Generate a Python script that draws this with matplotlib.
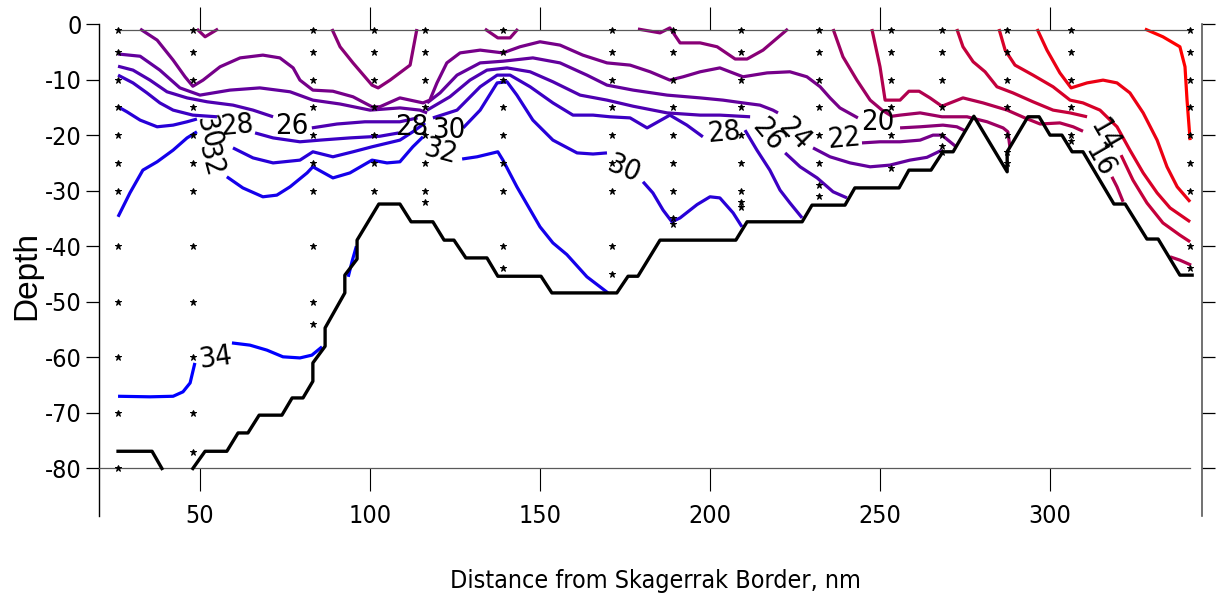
import matplotlib
matplotlib.use("Agg")
import matplotlib.pyplot as plt

plt.rcParams['font.family'] = ['Liberation Sans Narrow', 'DejaVu Sans']
plt.rcParams['font.stretch'] = 'condensed'
plt.rcParams['axes.unicode_minus'] = False

# CTD stations (nm from border) and the depths sampled at each
stations = [25.9, 47.9, 83.2, 101.2, 116.2, 139.1, 171.2, 189.1, 209.1, 232.1,
            253.2, 268.2, 287.4, 306.2, 341.2]
sample_depths = [
    [1, 5, 10, 15, 20, 25, 30, 40, 50, 60, 70, 80],
    [1, 5, 10, 15, 20, 25, 30, 40, 50, 60, 70, 77],
    [1, 5, 10, 15, 20, 25, 30, 40, 50, 54],
    [1, 5, 10, 15, 20, 25, 30],
    [1, 5, 10, 15, 20, 25, 30, 32],
    [1, 5, 10, 15, 20, 25, 30, 40, 44],
    [1, 5, 10, 15, 20, 25, 30, 40, 45],
    [1, 5, 10, 15, 20, 25, 30, 35, 36],
    [1, 5, 10, 15, 20, 25, 30, 32, 33],
    [1, 5, 10, 15, 20, 25, 29, 31],
    [1, 5, 10, 15, 20, 26],
    [1, 5, 10, 15, 20, 22, 23],
    [1, 5, 10, 15, 20, 23, 25],
    [1, 5, 10, 15, 20, 21],
    [1, 5, 10, 15, 20, 25, 30, 40, 44],
]

# bottom profile
bottom_x = [25.9, 35.9, 38.8, None, 47.9, 51.5, 57.9, 61.2, 64.1, 67.4, 74.1, 77.1, 80.3,
            83.2, 83.2, 86.8, 86.8, 92.6, 92.6, 96.2, 96.2, 102.6, 108.8, 112.1, 118.5,
            121.8, 124.7, 128.2, 134.4, 137.6, 150.3, 153.5, 172.6, 175.9, 178.8, 185.3,
            207.6, 210.9, 227.1, 230.0, 239.7, 242.6, 255.6, 258.5, 265.0, 268.5, 271.5,
            277.6, 287.4, 287.4, 293.5, 296.8, 300.0, 303.5, 306.5, 309.7, 318.8, 322.1,
            328.5, 331.8, 338.2, 341.8]
bottom_d = [-76.9, -76.9, -80.0, None, -80.0, -76.9, -76.9, -73.6, -73.6, -70.4, -70.4,
            -67.3, -67.3, -64.3, -61.0, -58.0, -54.7, -48.4, -45.2, -42.3, -38.9, -32.4,
            -32.4, -35.6, -35.6, -38.9, -38.9, -42.1, -42.1, -45.4, -45.4, -48.4, -48.4,
            -45.4, -45.4, -38.9, -38.9, -35.6, -35.6, -32.6, -32.6, -29.5, -29.5, -26.3,
            -26.3, -23.0, -23.0, -16.6, -26.6, -23.0, -16.7, -16.7, -20.0, -20.0, -23.0,
            -23.0, -32.4, -32.4, -38.7, -38.7, -45.2, -45.2]

# salinity isolines (level, distance, depth), split where labels sit
isolines = [
    (34, [25.9, 35.3, 42.1, 45.0, 47.1, 48.5], [-67.0, -67.1, -67.0, -66.2, -64.6, -61.0]),
    (34, [59.4, 64.7, 69.7, 74.4, 79.4, 82.9, 85.9], [-57.4, -57.8, -58.7, -59.9, -60.1, -59.6, -58.1]),
    (34, [93.6, 94.7, 96.0], [-45.5, -42.8, -40.0]),
    (32, [25.9, 29.4, 33.2, 37.4, 42.1, 46.2, 49.1], [-34.7, -30.4, -26.3, -24.8, -22.7, -20.5, -19.4]),
    (32, [57.9, 62.6, 68.5, 72.6, 76.5, 81.5, 83.2, 89.1, 94.1, 100.6, 105.0, 108.8, 112.6, 115.6],
         [-27.5, -29.5, -31.1, -30.8, -29.3, -26.8, -25.7, -27.7, -26.8, -24.5, -25.0, -24.8, -22.1, -20.3]),
    (32, [127.1, 131.5, 137.6, 139.1, 143.2, 150.0, 153.8, 157.9, 163.8, 170.0],
         [-24.3, -23.9, -23.0, -24.5, -29.3, -36.5, -39.4, -41.5, -45.5, -48.4]),
    (30, [25.9, 28.5, 32.4, 37.4, 42.1, 46.2, 49.1], [-14.9, -15.8, -17.3, -18.5, -18.2, -17.6, -17.1]),
    (30, [59.7, 65.6, 71.5, 79.4, 83.2, 89.1, 95.0, 100.6, 108.8, 112.6, 116.2],
         [-22.3, -24.1, -25.0, -24.5, -23.0, -23.9, -23.0, -22.1, -20.9, -19.4, -17.8]),
    (30, [127.4, 132.4, 137.4, 140.3, 143.2, 147.9, 153.8, 160.9, 165.6, 169.7],
         [-18.7, -15.5, -10.6, -10.4, -12.8, -17.3, -20.9, -23.2, -23.4, -23.2]),
    (30, [180.3, 183.2, 186.2, 188.8, 191.2, 196.2, 200.0, 202.9, 206.8, 209.4],
         [-28.4, -30.4, -33.5, -35.6, -34.9, -32.5, -31.1, -31.3, -34.0, -36.5]),
    (28, [25.9, 30.3, 34.4, 38.2, 42.1, 47.9, 55.0], [-9.2, -10.6, -12.4, -14.2, -15.5, -16.4, -16.7]),
    (28, [66.2, 71.5, 79.4, 85.3, 94.1, 102.9, 108.5], [-19.6, -20.5, -21.2, -20.9, -20.5, -20.2, -19.6]),
    (28, [118.5, 125.6, 132.4, 137.4, 141.2, 147.1, 153.8, 159.7, 165.6, 170.6, 176.5, 181.5, 188.2, 193.2, 197.9],
         [-16.9, -15.5, -11.3, -9.2, -9.2, -11.3, -14.2, -16.4, -16.4, -16.7, -16.9, -18.7, -16.4, -18.2, -20.3]),
    (28, [210.3, 213.8, 217.6, 220.6, 223.5, 227.1], [-19.1, -22.7, -26.3, -29.9, -32.2, -34.9]),
    (26, [25.9, 30.3, 35.3, 40.3, 46.2, 52.1, 59.7, 65.6, 71.5], [-7.6, -8.3, -10.1, -12.2, -13.3, -14.0, -14.6, -15.5, -16.7]),
    (26, [82.9, 90.3, 98.5, 108.8, 114.0], [-18.7, -18.0, -17.6, -17.6, -16.9]),
    (26, [116.8, 123.5, 129.4, 134.4, 140.3, 147.1, 153.8, 161.8, 169.7, 177.4, 187.4, 197.1, 202.9, 211.8],
         [-15.5, -13.1, -10.1, -8.3, -7.9, -8.6, -10.4, -12.8, -13.7, -14.8, -16.0, -16.4, -16.4, -16.7]),
    (26, [222.1, 226.5, 231.5, 236.2, 240.3], [-23.2, -25.7, -27.7, -30.2, -31.3]),
    (24, [25.9, 32.4, 38.2, 44.1, 50.0, 58.8, 67.6, 76.5, 83.2, 91.2, 100.0, 108.8, 114.7, 116.8],
         [-5.4, -5.8, -8.3, -11.5, -12.8, -11.9, -11.5, -12.2, -13.7, -14.4, -15.5, -15.1, -15.5, -16.0]),
    (24, [116.8, 120.6, 125.6, 132.4, 139.1, 147.9, 155.9, 163.8, 169.7, 177.4, 187.4, 197.1, 203.8, 209.7, 214.7, 218.5, 220.0],
         [-14.2, -12.4, -9.2, -7.0, -6.7, -6.1, -7.0, -9.2, -11.0, -11.9, -12.8, -13.3, -13.7, -14.2, -14.6, -15.5, -16.0]),
    (24, [230.3, 235.3, 241.2, 247.1, 252.9, 258.8, 263.8, 268.2], [-22.3, -23.9, -25.0, -25.7, -25.4, -24.5, -24.0, -22.7]),
    (22, [32.4, 37.4, 42.1, 45.6, 47.9, 50.9, 55.9, 61.8, 68.5, 73.5, 77.4, 79.4, 83.2, 89.1, 95.0, 100.6, 102.9,
          108.8, 115.6, 117.6, 119.7, 122.6, 126.5, 132.4, 139.1, 144.1, 150.0, 155.9, 162.6, 169.7, 176.5, 182.4,
          188.2, 192.1, 197.1, 202.9, 209.7, 216.8, 223.5, 228.5, 232.4, 235.3, 238.2, 243.5],
         [-0.9, -2.9, -6.5, -9.5, -11.2, -10.1, -7.7, -6.1, -5.6, -6.1, -7.9, -10.1, -11.9, -12.1, -13.1, -14.9, -14.9,
          -13.3, -14.2, -13.7, -10.6, -7.0, -5.2, -4.7, -5.2, -4.1, -3.2, -3.8, -5.6, -7.0, -7.4, -8.6, -10.1, -9.5,
          -8.6, -7.9, -9.5, -8.8, -8.6, -9.5, -11.3, -13.3, -15.1, -16.9]),
    (22, [244.7, 250.0, 255.9, 261.8, 265.6, 268.2, 272.4],
         [-21.4, -21.2, -21.2, -20.9, -20.0, -20.0, -22.1]),
    (20, [49.1, 51.5, 55.3], [-0.9, -2.3, -0.9]),
    (20, [88.8, 91.2, 95.0, 100.6, 102.4, 105.9, 111.8, 113.8], [-0.9, -4.1, -7.0, -11.0, -11.5, -10.1, -7.4, -0.9]),
    (20, [133.8, 137.6, 141.2, 143.5], [-0.9, -2.5, -2.5, -0.9]),
    (20, [178.8, 185.3, 188.2, 191.2, 197.1, 202.1, 207.4, 210.9, 215.6, 222.9],
         [-0.9, -1.6, -0.7, -3.4, -3.4, -4.1, -6.3, -6.3, -4.7, -0.9]),
    (20, [255.9, 261.8, 268.5, 272.6, 275.3], [-18.7, -18.5, -18.2, -18.5, -19.3]),
    (18, [236.2, 239.1, 243.2, 247.1, 250.6, 253.5, 255.9, 261.8, 268.2, 275.6, 281.5, 286.2, 287.6, 288.2],
         [-0.9, -5.9, -10.1, -13.7, -15.5, -16.6, -16.4, -16.0, -16.7, -16.7, -17.6, -18.7, -19.4, -22.1]),
    (16, [247.6, 250.0, 251.5, 255.9, 258.5, 261.5, 264.7, 268.2, 274.4, 280.3, 287.4, 292.6, 297.1, 302.9, 306.8, 309.7],
         [-0.9, -7.7, -13.7, -13.7, -12.1, -12.1, -13.3, -14.8, -13.3, -14.2, -15.5, -16.9, -18.0, -17.8, -18.5, -19.3]),
    (16, [318.2, 319.7, 321.5], [-27.5, -29.3, -32.0]),
    (16, [335.3, 338.2, 341.5], [-41.9, -42.5, -43.4]),
    (14, [272.6, 274.4, 277.4, 280.9, 284.4, 289.1, 295.0, 300.9, 305.9, 310.9],
         [-0.9, -4.1, -6.8, -8.6, -11.3, -12.4, -14.0, -15.5, -16.0, -16.7]),
    (14, [320.9, 324.4, 328.5, 333.2, 338.2, 341.2], [-23.6, -28.1, -32.2, -35.8, -38.0, -39.2]),
    (12, [285.0, 286.8, 289.7, 295.0, 300.9, 305.9, 309.7, 314.7, 319.7, 323.5, 327.4, 331.5, 335.3, 341.2],
         [-0.9, -4.7, -7.4, -9.2, -11.3, -13.7, -14.2, -15.5, -18.5, -22.7, -26.8, -30.4, -33.1, -35.6]),
    (10, [296.2, 299.1, 302.9, 306.2, 310.9, 315.6, 319.7, 323.5, 327.4, 331.5, 334.4, 337.4, 341.2],
         [-0.9, -4.7, -8.8, -11.5, -10.6, -10.1, -10.6, -12.4, -16.0, -20.9, -25.7, -29.3, -32.0]),
    (8, [327.9, 333.2, 338.2, 339.7, 340.3, 341.2], [-0.9, -2.3, -4.1, -7.7, -13.7, -20.9]),
]

# inline labels: text, distance, depth, rotation
label_text = ['34', '32', '30', '28', '26', '28', '30', '32', '30', '28', '26', '24', '22', '20', '14', '16']
label_x = [54.5, 53.0, 52.5, 61.0, 77.0, 112.3, 123.3, 120.5, 174.7, 204.0, 217.0, 225.0, 239.5, 249.5, 316.0, 314.5]
label_d = [-60.0, -24.5, -19.5, -18.3, -18.4, -18.6, -19.0, -23.0, -26.0, -19.6, -20.0, -19.8, -20.6, -17.6, -20.0, -24.5]
label_rot = [8, -75, -75, 5, 0, 0, 0, -15, -22, 5, -50, -45, 5, 0, -60, -60]

lev_lo, lev_hi = 8, 34


def level_color(lev):
    t = (lev - lev_lo) / (lev_hi - lev_lo)
    return (1 - t, 0, t)


fig = plt.figure(figsize=(12.16, 6.06), dpi=100)
ax = fig.add_axes([99 / 1216, 1 - 516 / 606, 1103 / 1216, 492 / 606])

for lev, xs, ds in isolines:
    ax.plot(xs, ds, color=level_color(lev), lw=2.3, solid_capstyle='butt', zorder=2)

bx = [float('nan') if v is None else v for v in bottom_x]
bd = [float('nan') if v is None else v for v in bottom_d]
ax.plot(bx, bd, color='black', lw=2.4, zorder=3)

for sx, deps in zip(stations, sample_depths):
    ax.plot([sx] * len(deps), [-d for d in deps], ls='none', marker='*',
            ms=4.5, color='black', mew=0.7, zorder=4)

for txt, lx, ld, rot in zip(label_text, label_x, label_d, label_rot):
    ax.text(lx, ld, txt, fontsize=21, rotation=rot, ha='center', va='center',
            rotation_mode='anchor', zorder=5)

ax.set_xlim(20.3, 344.7)
ax.set_ylim(-88.55, 0)
ax.set_xticks([50, 100, 150, 200, 250, 300])
ax.set_yticks([0, -10, -20, -30, -40, -50, -60, -70, -80])

ax.spines['top'].set_position(('data', -1))
ax.spines['top'].set_bounds(stations[0], stations[-1])
ax.spines['bottom'].set_position(('data', -80))
ax.spines['bottom'].set_bounds(20.3, stations[-1])
for side in ['top', 'bottom']:
    ax.spines[side].set_color('0.35')
    ax.spines[side].set_linewidth(0.9)
ax.spines['left'].set_linewidth(1.0)
ax.spines['right'].set_color('0.35')
ax.spines['right'].set_linewidth(1.2)

ax.tick_params(axis='x', top=True, bottom=True, labeltop=False, direction='out',
               length=16.5, width=0.8, pad=9, labelsize=18)
ax.tick_params(axis='y', left=True, right=True, labelright=False, direction='out',
               length=9.5, width=0.9, pad=3, labelsize=18)

fig.text(655 / 1216, 1 - 581 / 606, 'Distance from Skagerrak Border, nm', fontsize=18,
         ha='center', va='center')
fig.text(27 / 1216, 1 - 276 / 606, 'Depth', fontsize=24, rotation=90, ha='center',
         va='center', family=['Liberation Sans', 'DejaVu Sans'], stretch='normal')

fig.savefig('out.png', dpi=100)
